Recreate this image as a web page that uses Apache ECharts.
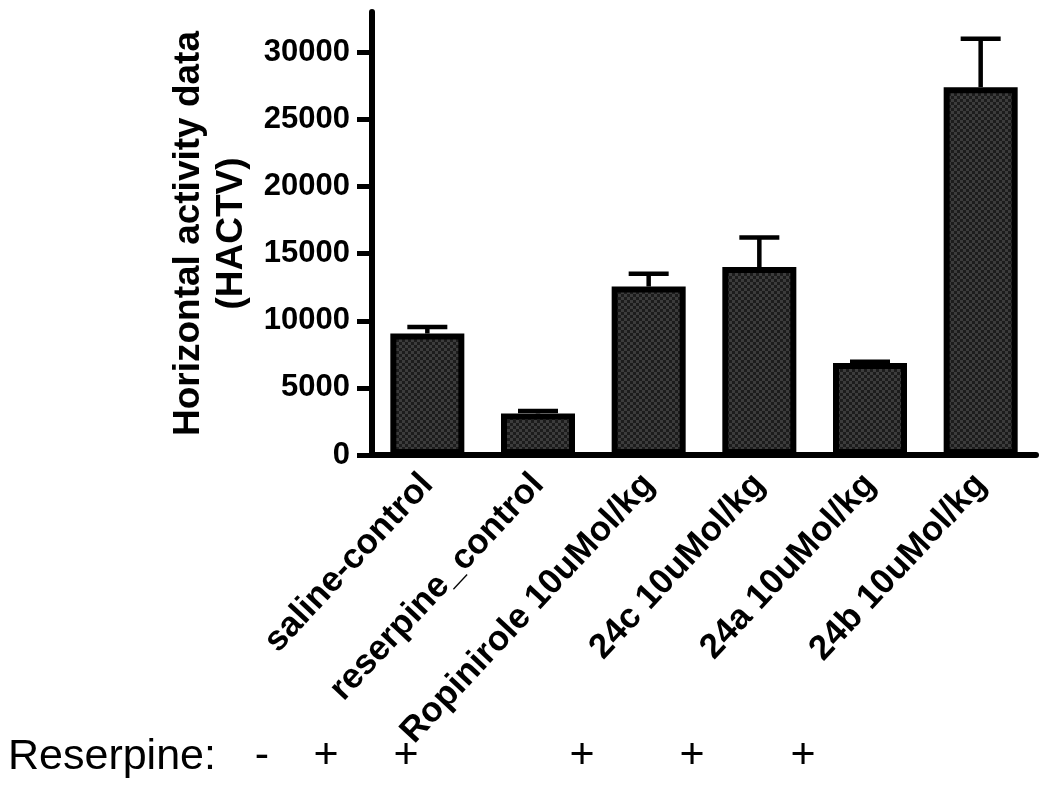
<!DOCTYPE html>
<html>
<head>
<meta charset="utf-8">
<script src="https://cdn.jsdelivr.net/npm/echarts@6/dist/echarts.min.js"></script>
<style>
  html, body { margin: 0; padding: 0; background: #fff; }
  #chart { width: 1050px; height: 795px; }
</style>
</head>
<body>
<div id="chart"></div>
<script>
// groups on the x axis
var groups = ['saline-control', 'reserpine_control', 'Ropinirole 10uMol/kg',
              '24c 10uMol/kg', '24a 10uMol/kg', '24b 10uMol/kg'];
// mean horizontal activity per group
var means = [9050, 3100, 12550, 14000, 6850, 27400];
// upper error (SEM) per group
var errors = [480, 180, 950, 2200, 100, 3600];
var yTicks = [0, 5000, 10000, 15000, 20000, 25000, 30000];
// reserpine row under the chart
var reserpineSigns = ['-', '+', '+', '+', '+', '+'];
var signX = [262, 326, 406, 582, 692, 803];

// dark checkered fill like the original
function makePattern() {
    var c = document.createElement('canvas');
    c.width = 6; c.height = 6;
    var ctx = c.getContext('2d');
    ctx.fillStyle = '#1c1c1c';
    ctx.fillRect(0, 0, 6, 6);
    ctx.fillStyle = '#3c3c3c';
    ctx.fillRect(0, 0, 3, 3);
    ctx.fillRect(3, 3, 3, 3);
    return c;
}

var errData = groups.map(function (g, i) {
    return [i, means[i], errors[i]];
});

var graphics = [{
    type: 'text', left: 8, top: 736,
    style: {text: 'Reserpine:', font: '43px Arial', fill: '#000'}
}];
reserpineSigns.forEach(function (s, i) {
    graphics.push({
        type: 'text', x: signX[i], y: 756,
        style: {text: s, font: '43px Arial', fill: '#000', align: 'center', verticalAlign: 'middle'}
    });
});

var myChart = echarts.init(document.getElementById('chart'));
myChart.setOption({
    animation: false,
    grid: {left: 372, right: 14, top: 12, bottom: 340},
    xAxis: {
        type: 'category',
        data: groups,
        axisLine: {lineStyle: {color: '#000', width: 6}},
        axisTick: {alignWithLabel: true, length: 15, lineStyle: {color: '#000', width: 5}},
        axisLabel: {
            interval: 0, rotate: 47, margin: 24, color: '#000',
            fontFamily: 'Arial', fontWeight: 'bold', fontSize: 35
        }
    },
    yAxis: {
        type: 'value',
        min: 0, max: 33000,
        name: 'Horizontal activity data\n(HACTV)',
        nameLocation: 'middle',
        nameGap: 110,
        nameTextStyle: {color: '#000', fontFamily: 'Arial', fontWeight: 'bold', fontSize: 37, lineHeight: 43},
        splitLine: {show: false},
        axisLine: {show: true, lineStyle: {color: '#000', width: 6}},
        axisTick: {show: true, length: 15, customValues: yTicks, lineStyle: {color: '#000', width: 5}},
        axisLabel: {
            customValues: yTicks, margin: 22, color: '#000',
            fontFamily: 'Arial', fontWeight: 'bold', fontSize: 31,
            formatter: function (v) { return String(v); }
        }
    },
    series: [{
        type: 'bar',
        data: means,
        barWidth: 74,
        itemStyle: {
            color: {image: makePattern(), repeat: 'repeat'},
            borderColor: '#000',
            borderWidth: 6
        },
        z: 2
    }, {
        type: 'custom',
        data: errData,
        z: 3,
        renderItem: function (params, api) {
            var i = api.value(0);
            var top = api.coord([i, api.value(1) + api.value(2)]);
            var base = api.coord([i, api.value(1)]);
            var half = 20;
            return {
                type: 'group',
                children: [{
                    type: 'line',
                    shape: {x1: base[0], y1: base[1], x2: top[0], y2: top[1]},
                    style: {stroke: '#000', lineWidth: 4.5}
                }, {
                    type: 'line',
                    shape: {x1: top[0] - half, y1: top[1], x2: top[0] + half, y2: top[1]},
                    style: {stroke: '#000', lineWidth: 4.5}
                }]
            };
        }
    }],
    graphic: graphics
});
</script>
</body>
</html>
